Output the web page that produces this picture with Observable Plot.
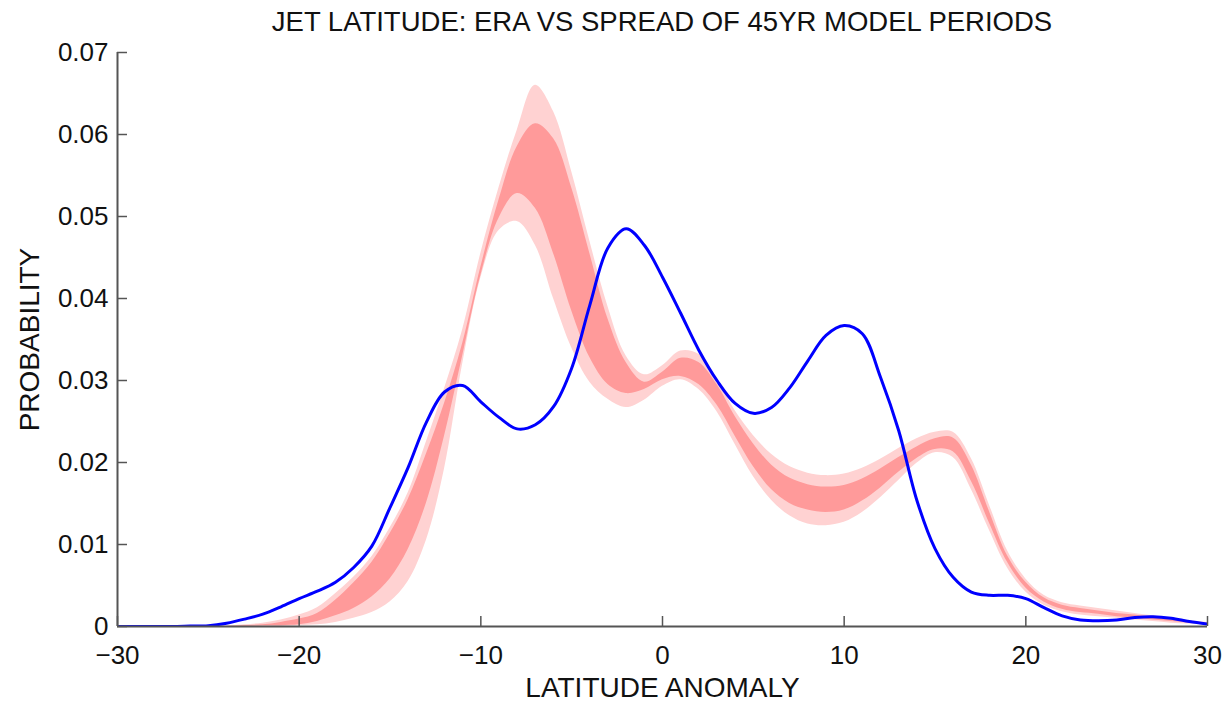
<!DOCTYPE html>
<html>
<head>
<meta charset="utf-8">
<script src="https://cdn.jsdelivr.net/npm/d3@7"></script>
<script src="https://cdn.jsdelivr.net/npm/@observablehq/plot@0.6"></script>
<style>
  html, body { margin: 0; padding: 0; background: #fff; }
  #wrap { position: relative; width: 1227px; height: 702px; }
  #title {
    position: absolute; left: 0; top: 2px; width: 1227px;
    height: 40px; line-height: 40px; box-sizing: border-box;
    padding-left: 117px; padding-right: 20px; text-align: center;
    font-family: "Liberation Sans", Arial, Helvetica, sans-serif;
    font-size: 27.5px; color: #111; z-index: 2;
  }
  #chart { position: absolute; left: 0; top: 0; }
</style>
</head>
<body>
<div id="wrap">
<div id="chart"></div>
<div id="title">JET LATITUDE: ERA VS SPREAD OF 45YR MODEL PERIODS</div>
</div>
<script>
// Latitude anomaly grid (degrees)
const lat = [-30,-29,-28,-27,-26,-25,-24,-23,-22,-21,
             -20,-19,-18,-17,-16,-15,-14,-13,-12,-11,
             -10,-9,-8,-7,-6,-5,-4,-3,-2,-1,
             0,1,2,3,4,5,6,7,8,9,
             10,11,12,13,14,15,16,17,18,19,
             20,21,22,23,24,25,26,27,28,29,30];

// ERA reanalysis PDF (blue line)
const era = [0,0,0,0,0.00005,0.0001,0.0004,0.0009,0.0015,0.0024,
             0.0034,0.0043,0.0054,0.0072,0.0098,0.0145,0.0194,0.0249,0.0286,0.0294,
             0.0274,0.0255,0.0241,0.0246,0.0268,0.0315,0.0392,0.0462,0.0485,0.0465,
             0.0426,0.0382,0.0337,0.030,0.0272,0.026,0.0267,0.0291,0.0324,0.0355,
             0.0367,0.0357,0.0304,0.0239,0.0154,0.0095,0.006,0.0042,0.0038,0.0038,
             0.0034,0.0023,0.0013,0.0008,0.0007,0.0008,0.0011,0.0012,0.001,0.0006,0.0003];

// Model spread: outer envelope (upper / lower)
const outerUpper = [0,0,0,0,0,0,0.00005,0.0002,0.0004,0.0008,
             0.0014,0.0023,0.004,0.006,0.0085,0.012,0.0163,0.0225,0.029,0.0362,
             0.0455,0.0535,0.0605,0.066,0.0628,0.0555,0.047,0.039,0.033,0.0307,
             0.0318,0.0336,0.0332,0.0302,0.0263,0.0233,0.021,0.0195,0.0187,0.0184,
             0.0186,0.0193,0.0204,0.0217,0.0229,0.0237,0.0237,0.0205,0.0148,0.0092,
             0.0058,0.0038,0.0029,0.0025,0.0022,0.0019,0.0016,0.0013,0.001,0.0007,0.0005];
const outerLower = [0,0,0,0,0,0,0,0,0,0,
             0.0001,0.0002,0.0005,0.001,0.0017,0.003,0.0055,0.0105,0.0192,0.032,
             0.0425,0.0483,0.0494,0.0465,0.040,0.034,0.0298,0.0277,0.0267,0.0276,
             0.0293,0.0301,0.0289,0.0262,0.0222,0.0183,0.0154,0.0135,0.0125,0.0123,
             0.0127,0.0139,0.0157,0.0178,0.0199,0.0212,0.0206,0.0167,0.0117,0.0071,
             0.0042,0.0026,0.0018,0.0014,0.0012,0.001,0.0008,0.0006,0.0004,0.0003,0.0002];

// Model spread: inner band (upper / lower)
const innerUpper = [0,0,0,0,0,0,0,0.0001,0.0002,0.0005,
             0.0009,0.0016,0.0032,0.0053,0.0078,0.0113,0.0155,0.021,0.0272,0.0345,
             0.0438,0.052,0.0585,0.0613,0.0595,0.0535,0.0455,0.0375,0.0322,0.0298,
             0.031,0.0327,0.0322,0.0295,0.0256,0.0223,0.0197,0.0181,0.0173,0.017,
             0.0172,0.018,0.0192,0.0206,0.0219,0.0229,0.023,0.0197,0.014,0.0086,
             0.0054,0.0035,0.0026,0.0022,0.0019,0.0016,0.0014,0.0011,0.0008,0.0006,0.0004];
const innerLower = [0,0,0,0,0,0,0,0,0.0001,0.0001,
             0.0002,0.0006,0.0013,0.0022,0.0036,0.0058,0.0094,0.015,0.0232,0.033,
             0.0428,0.0498,0.0528,0.051,0.0455,0.0385,0.0328,0.0295,0.0284,0.0289,
             0.0301,0.0305,0.0295,0.027,0.0232,0.0195,0.0167,0.015,0.0142,0.0139,
             0.0142,0.0153,0.0169,0.0188,0.0205,0.0216,0.0213,0.0177,0.0126,0.0078,
             0.0047,0.003,0.0021,0.0017,0.0015,0.0012,0.001,0.0008,0.0006,0.0004,0.0003];

const xTicks = [-30,-20,-10,0,10,20,30];
const yTicks = [0,0.01,0.02,0.03,0.04,0.05,0.06,0.07];
const xLabel = "LATITUDE ANOMALY";
const yLabel = "PROBABILITY";

const data = lat.map((x, i) => ({
  x, era: era[i],
  ou: outerUpper[i], ol: outerLower[i],
  iu: innerUpper[i], il: innerLower[i]
}));

const axisGray = "#555";
const chart = Plot.plot({
  width: 1227,
  height: 702,
  marginTop: 52,
  marginBottom: 76,
  marginLeft: 117,
  marginRight: 20,
  style: {fontFamily: "'Liberation Sans', Arial, Helvetica, sans-serif", fontSize: "26px", color: "#111", background: "white"},
  x: {domain: [-30, 30]},
  y: {domain: [0, 0.07]},
  marks: [
    Plot.areaY(data, {x: "x", y1: "ol", y2: "ou", fill: "#ffd2d2", curve: "catmull-rom", clip: true}),
    Plot.areaY(data, {x: "x", y1: "il", y2: "iu", fill: "#ff9a9a", curve: "catmull-rom", clip: true}),
    Plot.line(data, {x: "x", y: "era", stroke: "#0000ff", strokeWidth: 3, curve: "catmull-rom", clip: true}),
    Plot.ruleX([-30], {stroke: axisGray, strokeWidth: 2}),
    Plot.ruleY([0], {stroke: axisGray, strokeWidth: 2}),
    Plot.axisX({ticks: xTicks, tickSize: -10, tickPadding: 29, stroke: axisGray, strokeWidth: 1.5, label: null, tickFormat: d => d < 0 ? "\u2212" + Math.abs(d) : String(d)}),
    Plot.axisY({ticks: yTicks, tickSize: -10, tickPadding: 19, stroke: axisGray, strokeWidth: 1.5, label: null, tickFormat: d => d === 0 ? "0" : d.toFixed(2)}),
    Plot.text([xLabel], {frameAnchor: "bottom", dy: 62, lineAnchor: "middle", textAnchor: "middle", text: d => d, fontSize: 28, fill: "#111"}),
    Plot.text([yLabel], {frameAnchor: "left", dx: -87, rotate: -90, lineAnchor: "middle", textAnchor: "middle", text: d => d, fontSize: 28, fill: "#111"})
  ]
});
document.getElementById("chart").appendChild(chart);
</script>
</body>
</html>
